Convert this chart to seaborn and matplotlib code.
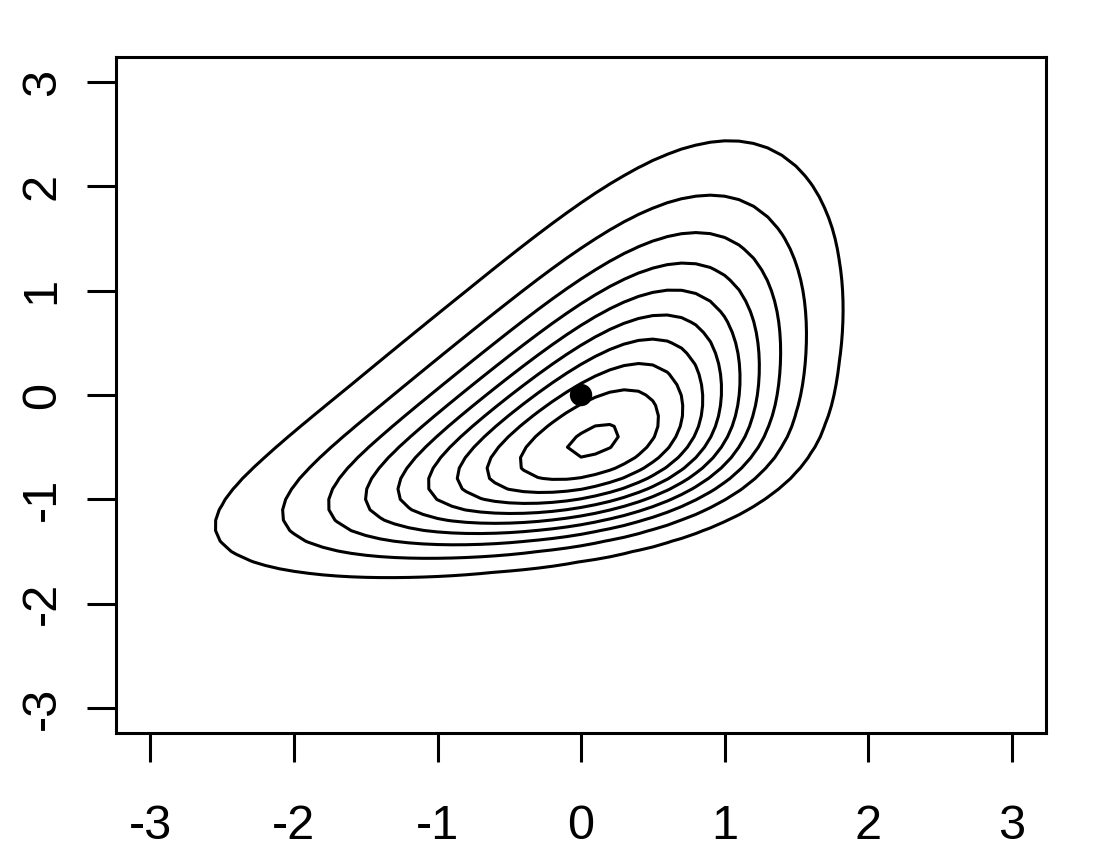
import math
import numpy as np
import matplotlib
matplotlib.use("Agg")
import matplotlib.pyplot as plt
import seaborn as sns

# evaluation grid, same as the original contour call
grid_x = np.linspace(-3, 3, 61)
grid_y = np.linspace(-3, 3, 61)

# normal kernel with two probit skewing factors
xi = [-0.7753, -1.8532]
omega = [8.5113, 9.6273]
rho = 0.991075
alpha1 = [-2.4796, 25.0218]
tau1 = -1.7498
alpha2 = [-13.0592, -0.7564]
tau2 = 2.8313

level_step = 0.0805
n_levels = 10

marked_x = [0.0]
marked_y = [0.0]

ticks = [-3, -2, -1, 0, 1, 2, 3]
tick_labels = ["-3", "-2", "-1", "0", "1", "2", "3"]

Phi = np.vectorize(lambda t: 0.5 * (1 + math.erf(t / math.sqrt(2))))

X, Y = np.meshgrid(grid_x, grid_y)
u = (X - xi[0]) / omega[0]
v = (Y - xi[1]) / omega[1]
Q = (u * u - 2 * rho * u * v + v * v) / (1 - rho * rho)
dens = (np.exp(-Q / 2)
        * Phi(alpha1[0] * u + alpha1[1] * v + tau1)
        * Phi(alpha2[0] * u + alpha2[1] * v + tau2))
levels = level_step * np.arange(1, n_levels + 1)

sns.set_theme(style="ticks", rc={
    "axes.linewidth": 2.2,
    "axes.edgecolor": "black",
    "xtick.major.size": 21,
    "ytick.major.size": 21,
    "xtick.major.width": 2.2,
    "ytick.major.width": 2.2,
    "xtick.color": "black",
    "ytick.color": "black",
    "axes.unicode_minus": False,
})
plt.rcParams["font.family"] = ["Liberation Sans", "DejaVu Sans"]

fig = plt.figure(figsize=(11.04, 8.49), dpi=100)
ax = fig.add_axes([0.1051, 0.1366, 0.8424, 0.7962])

ax.contour(grid_x, grid_y, dens, levels=levels, colors="black", linewidths=2.2)
sns.scatterplot(x=marked_x, y=marked_y, ax=ax, color="black", s=260,
                edgecolor="none", zorder=5, legend=False)

ax.set_xlim(-3.24, 3.24)
ax.set_ylim(-3.24, 3.24)
ax.set_xticks(ticks)
ax.set_xticklabels(tick_labels)
ax.set_yticks(ticks)
ax.set_yticklabels(tick_labels, rotation=90, va="center")
ax.tick_params(axis="x", labelsize=35, pad=30, direction="out")
ax.tick_params(axis="y", labelsize=35, pad=16, direction="out")
ax.set_xlabel("")
ax.set_ylabel("")
for side in ("top", "right", "bottom", "left"):
    ax.spines[side].set_visible(True)
    ax.spines[side].set_color("black")

fig.savefig("out.png", dpi=100)
